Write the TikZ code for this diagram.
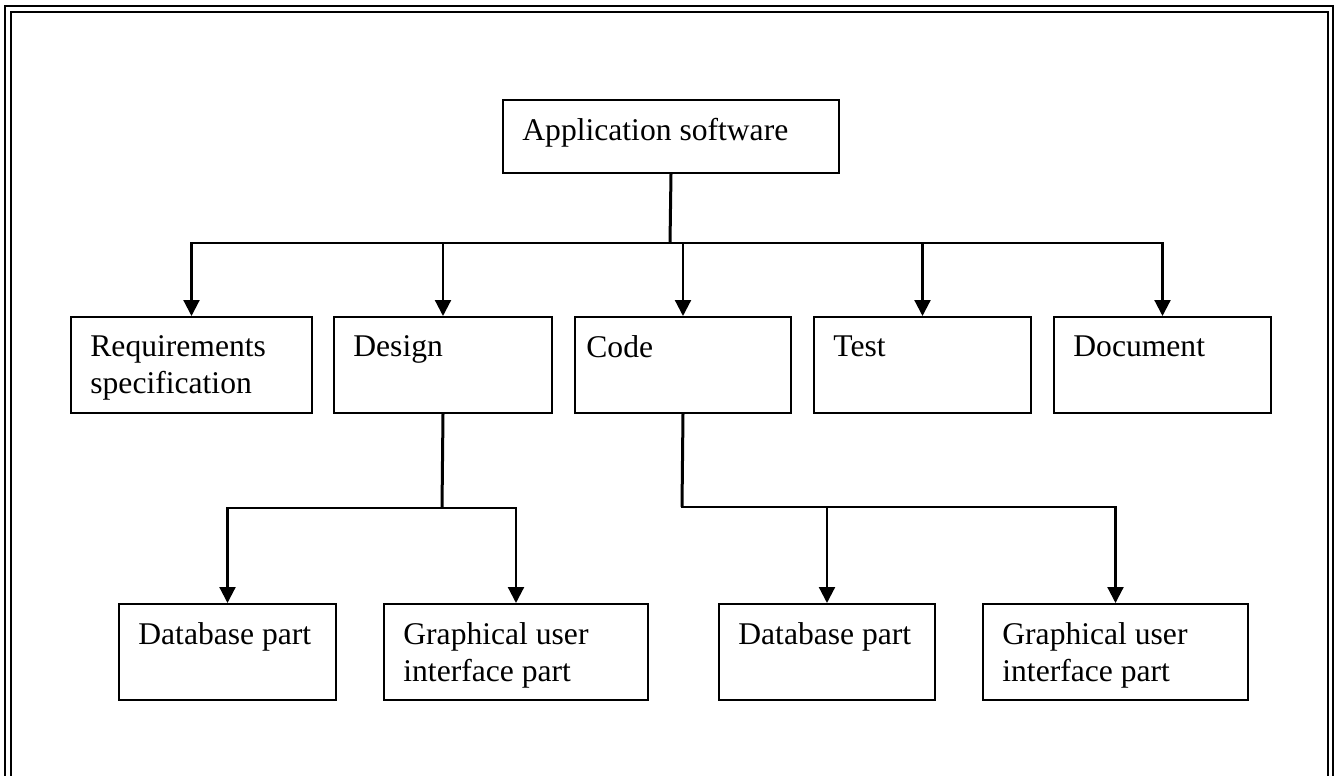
\documentclass[tikz,border=0pt]{standalone}
\usepackage{fontspec}
\setmainfont{Liberation Serif}
\usetikzlibrary{arrows.meta}
\newcommand{\chartfont}{\fontsize{15.8pt}{18.5pt}\selectfont}

\begin{document}
\begin{tikzpicture}[x=0.5pt, y=-0.5pt]
  \tikzset{
    box/.style 2 args={draw, line width=1pt, anchor=north west, inner sep=0pt,
      minimum width=#1, minimum height=#2},
    txt/.style={anchor=north west, inner sep=0pt, align=left, font=\chartfont,
      xshift=#1, yshift=-9.6pt},
    txt/.default=10pt,
    link/.style={line width=1.1pt, line cap=rect},
    trunk/.style={line width=1.5pt},
    arrow/.style={line width=1.1pt, -{Triangle[length=8pt, width=8pt]}}
  }
  \useasboundingbox (0,0) rectangle (1335,776);
  \draw[line width=1pt] (5,776) -- (5,6) -- (1333,6) -- (1333,776);
  \draw[line width=1.2pt] (11,776) -- (11,12) -- (1328,12) -- (1328,776);

  \node[box={168pt}{36.5pt}, label={[txt]north west:Application software}] (root) at (502,99) {};

  \node[box={120.5pt}{48pt}, label={[txt]north west:Requirements\\specification}] (req) at (70,316) {};
  \node[box={109pt}{48pt}, label={[txt]north west:Design}] (design) at (333,316) {};
  \node[box={108pt}{48pt}, label={[txt=6pt]north west:Code}] (code) at (574,316) {};
  \node[box={108.5pt}{48pt}, label={[txt]north west:Test}] (test) at (813,316) {};
  \node[box={108.5pt}{48pt}, label={[txt]north west:Document}] (doc) at (1053,316) {};

  \node[box={108.5pt}{48pt}, label={[txt]north west:Database part}] (db1) at (118,603) {};
  \node[box={132pt}{48pt}, label={[txt]north west:Graphical user\\interface part}] (gui1) at (383,603) {};
  \node[box={108pt}{48pt}, label={[txt]north west:Database part}] (db2) at (718,603) {};
  \node[box={132.5pt}{48pt}, label={[txt]north west:Graphical user\\interface part}] (gui2) at (982,603) {};

  \coordinate (bus) at (670,243);
  \draw[trunk] (root.south) -- (bus);
  \draw[link] (req.north |- bus) -- (doc.north |- bus);
  \draw[arrow] (req.north |- bus) -- (req.north);
  \draw[arrow] (design.north |- bus) -- (design.north);
  \draw[arrow] (code.north |- bus) -- (code.north);
  \draw[arrow] (test.north |- bus) -- (test.north);
  \draw[arrow] (doc.north |- bus) -- (doc.north);

  \coordinate (dbus) at (442,508);
  \draw[trunk] (design.south) -- (dbus);
  \draw[link] (db1.north |- dbus) -- (gui1.north |- dbus);
  \draw[arrow] (db1.north |- dbus) -- (db1.north);
  \draw[arrow] (gui1.north |- dbus) -- (gui1.north);

  \coordinate (cbus) at (682,507);
  \draw[trunk] (code.south) -- (cbus);
  \draw[link] (cbus) -- (gui2.north |- cbus);
  \draw[arrow] (db2.north |- cbus) -- (db2.north);
  \draw[arrow] (gui2.north |- cbus) -- (gui2.north);
\end{tikzpicture}
\end{document}
